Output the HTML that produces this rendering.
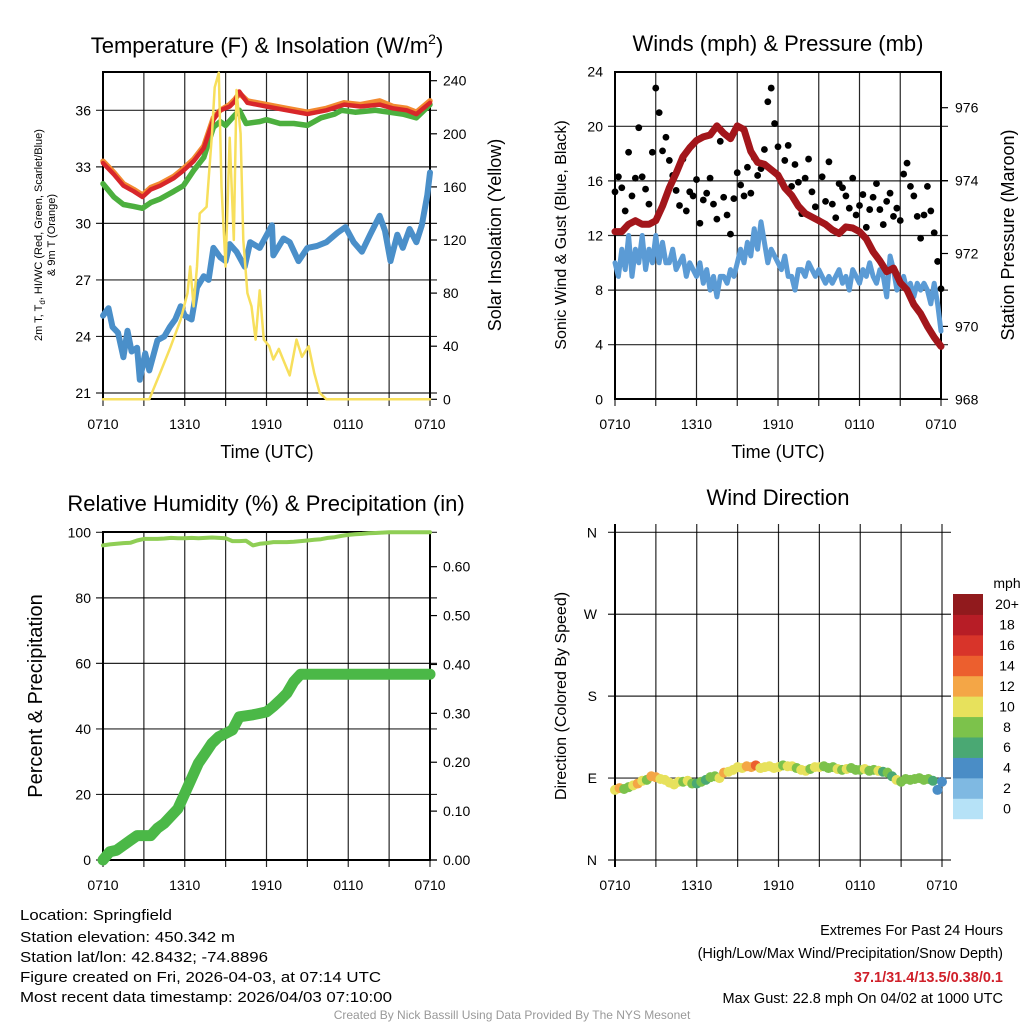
<!DOCTYPE html>
<html><head><meta charset="utf-8">
<style>
html,body{margin:0;padding:0;background:#fff;}
svg{display:block;font-family:"Liberation Sans",sans-serif;}
</style></head>
<body>
<svg id="fig" width="1024" height="1024" viewBox="0 0 1024 1024" xmlns="http://www.w3.org/2000/svg">
<g id="p1"></g>
<g id="p2"></g>
<g id="p3"></g>
<g id="p4"></g>

<text x="267" y="53" font-size="22" text-anchor="middle">Temperature (F) &amp; Insolation (W/m<tspan font-size="14" dy="-9">2</tspan><tspan dy="9">)</tspan></text>
<text x="778" y="51" font-size="22" text-anchor="middle">Winds (mph) &amp; Pressure (mb)</text>
<text x="266" y="511" font-size="22" text-anchor="middle">Relative Humidity (%) &amp; Precipitation (in)</text>
<text x="778" y="505" font-size="22" text-anchor="middle">Wind Direction</text>

<text x="267" y="458" font-size="18" text-anchor="middle">Time (UTC)</text>
<text x="778" y="458" font-size="18" text-anchor="middle">Time (UTC)</text>

<text transform="translate(42,235) rotate(-90)" font-size="11" text-anchor="middle">2m T, T<tspan font-size="8" dy="3">d</tspan><tspan dy="-3">, HI/WC (Red, Green, Scarlet/Blue)</tspan></text>
<text transform="translate(55,235) rotate(-90)" font-size="11" text-anchor="middle">&amp; 9m T (Orange)</text>
<text transform="translate(501,235) rotate(-90)" font-size="18" text-anchor="middle">Solar Insolation (Yellow)</text>
<text transform="translate(566,235) rotate(-90)" font-size="16" text-anchor="middle">Sonic Wind &amp; Gust (Blue, Black)</text>
<text transform="translate(1014,235) rotate(-90)" font-size="18" text-anchor="middle">Station Pressure (Maroon)</text>
<text transform="translate(42,696) rotate(-90)" font-size="20" text-anchor="middle">Percent &amp; Precipitation</text>
<text transform="translate(566,696) rotate(-90)" font-size="16" text-anchor="middle">Direction (Colored By Speed)</text>

<g font-size="14.5">
<text x="20" y="920" textLength="152" lengthAdjust="spacingAndGlyphs">Location: Springfield</text>
<text x="20" y="942" textLength="215" lengthAdjust="spacingAndGlyphs">Station elevation: 450.342 m</text>
<text x="20" y="962" textLength="248" lengthAdjust="spacingAndGlyphs">Station lat/lon: 42.8432; -74.8896</text>
<text x="20" y="982" textLength="361" lengthAdjust="spacingAndGlyphs">Figure created on Fri, 2026-04-03, at 07:14 UTC</text>
<text x="20" y="1002" textLength="372" lengthAdjust="spacingAndGlyphs">Most recent data timestamp: 2026/04/03 07:10:00</text>
</g>
<g font-size="14.5" text-anchor="end">
<text x="1003" y="935">Extremes For Past 24 Hours</text>
<text x="1003" y="958">(High/Low/Max Wind/Precipitation/Snow Depth)</text>
<text x="1003" y="982" fill="#d0202a" font-weight="bold">37.1/31.4/13.5/0.38/0.1</text>
<text x="1003" y="1003">Max Gust: 22.8 mph On 04/02 at 1000 UTC</text>
</g>
<text x="512" y="1019" font-size="12" fill="#999" text-anchor="middle">Created By Nick Bassill Using Data Provided By The NYS Mesonet</text>
</svg>

<script>
// ---------- data ----------
const xTickLabels = ["0710","1310","1910","0110","0710"];
const tempTicks = [21,24,27,30,33,36];
const solarTicks = [0,40,80,120,160,200,240];
const windTicks = [0,4,8,12,16,20,24];
const presTicks = [968,970,972,974,976];
const rhTicks = [0,20,40,60,80,100];
const precipTicks = [0,0.1,0.2,0.3,0.4,0.5,0.6];
const dirTicks = [0,90,180,270,360];
const dirLabels = ["N","E","S","W","N"];

const redHours = [0,0.8,1.5,2.25,2.9,3.5,4.2,5.2,5.9,6.65,7.4,8.1,8.6,9.3,9.7,10,10.6,12,13.5,15,16.4,17.7,18.9,20.3,21.3,22.3,23,24];
const tempRed = [33.2,32.6,32.0,31.7,31.4,31.8,32.0,32.4,32.8,33.3,34.0,35.5,36.0,36.2,36.5,37.0,36.4,36.2,36.0,35.8,36.0,36.3,36.2,36.3,36.1,36.0,35.8,36.4];
const tempOrange = [33.3,32.7,32.1,31.8,31.5,31.9,32.1,32.5,32.9,33.4,34.1,35.6,36.0,36.3,36.6,36.9,36.5,36.3,36.1,35.9,36.1,36.4,36.3,36.5,36.2,36.1,35.9,36.5];
const greenHours = [0,0.8,1.5,2.25,2.9,3.5,4.2,5.2,5.9,6.65,7.4,8.1,8.6,9.0,9.5,10,10.5,11.5,12,13,14,15,16,17,17.5,18.5,20,21,22,23,24];
const tempGreen = [32.1,31.4,31.0,30.9,30.8,31.1,31.3,31.7,32.0,32.8,33.5,35.1,35.4,35.2,35.6,36.0,35.3,35.4,35.5,35.3,35.3,35.2,35.6,35.8,36.0,35.9,36.0,35.9,35.8,35.6,36.3];
const dewHours = [0,0.4,0.7,1.1,1.5,1.8,2.1,2.5,2.7,3.1,3.4,4,4.5,4.9,5.3,5.7,6,6.5,6.9,7.4,7.75,8.1,8.6,9,9.3,9.8,10.4,10.8,11.5,12.4,12.5,13.25,13.7,14.35,15,15.7,16.4,17.2,17.8,18.4,19,19.6,20.3,20.7,21.1,21.6,22,22.5,23,23.4,23.8,24];
const dewBlue = [25.1,25.5,24.5,24.2,22.9,24.3,23.2,23.4,21.7,23.1,22.2,23.8,24.0,24.5,24.9,25.6,25.1,24.9,26.6,27.2,27.0,28.7,28.2,28.0,28.9,28.5,27.7,29.0,28.7,29.9,28.3,29.2,29.0,28.0,28.7,28.8,29.0,29.5,29.8,29.0,28.5,29.4,30.4,29.6,28.0,29.4,28.7,29.7,29.0,29.9,31.5,32.7];
const solarHours = [0,3.4,4.2,4.9,5.7,6.2,6.4,6.65,6.9,7.1,7.6,8.0,8.2,8.5,8.7,9.0,9.3,9.6,9.8,10.1,10.3,10.6,10.9,11.2,11.5,11.8,12.2,12.5,12.9,13.3,13.7,14.2,14.6,15.1,15.5,15.9,16.4,24];
const solarVals = [0,0,20,38,60,80,100,70,100,140,145,200,235,246,160,100,197,120,233,200,120,80,70,45,82,45,40,30,38,28,18,45,32,40,20,5,0,0];

const windBlue = [10,9,11,9.5,12,9,11,10,12,9.5,11,10,12,10,11.5,10,10,11,9.5,10,10.5,9,10,9.5,9,10,8.5,9.5,8,9,7.5,9,9,8.5,9.5,9,10,11,10,11.5,10.5,12.5,11,13,11.5,10,11,10.5,10,9.5,10.5,9,9,8,9.5,9.5,9,10,9.5,9,9.5,9,8.5,9,8.5,9,9.5,8.5,9,8,9.5,9,8.5,9.5,9,10,9,8.5,9.5,9,7.5,10.5,9.5,8,8.5,9,8,8.5,7.5,8.5,8,8.5,8,7,8.5,7,5];
const gusts = [15.2,16.3,15.5,13.8,18.1,14.9,16.2,19.9,16.3,15.4,14.3,18.1,22.8,21.0,18.2,19.2,17.5,16.4,15.3,14.2,17.6,13.8,15.2,14.9,16.1,12.9,14.6,15.1,16.2,14.3,13.2,18.9,14.8,13.5,12.1,14.7,16.6,15.7,14.9,17.0,15.1,17.7,16.4,16.9,18.3,21.8,22.8,20.2,18.5,16.0,17.5,18.6,15.6,17.2,15.9,13.6,16.2,17.6,15.2,14.1,13.1,16.3,14.5,17.4,14.3,13.3,15.8,15.5,14.9,14.0,16.2,13.5,14.2,15.0,12.6,13.9,14.8,15.8,13.9,12.8,14.5,15.1,13.4,14.0,13.1,16.5,17.3,15.6,14.9,13.4,11.8,13.5,15.6,13.8,12.2,10.1,8.1];
const pressure = [972.6,972.6,972.8,972.9,972.8,972.8,972.9,973.3,973.8,974.2,974.65,974.9,975.1,975.2,975.25,975.5,975.3,975.15,975.5,975.4,974.8,974.5,974.45,974.3,974.15,973.8,973.6,973.3,973.1,973.0,972.9,972.8,972.65,972.55,972.73,972.7,972.6,972.4,972.05,971.8,971.5,971.6,971.2,971.0,970.6,970.35,970.0,969.7,969.45];

const rh = [96,96.3,96.5,96.7,96.8,97.5,98,98,98,98.1,98.3,98.2,98.2,98.3,98.2,98.3,98.4,98.3,98.2,97.3,97.3,97.4,96,96.5,96.7,97,97,97,97.1,97.3,97.5,97.7,97.9,98.3,98.5,98.9,99.2,99.4,99.5,99.7,99.8,99.9,100,100,100,100,100,100,100];
const precip = [0,0.017,0.02,0.03,0.04,0.05,0.05,0.05,0.065,0.075,0.09,0.105,0.136,0.167,0.198,0.218,0.239,0.252,0.259,0.266,0.293,0.295,0.297,0.30,0.303,0.314,0.327,0.341,0.365,0.38,0.38,0.38,0.38,0.38,0.38,0.38,0.38,0.38,0.38,0.38,0.38,0.38,0.38,0.38,0.38,0.38,0.38,0.38,0.38];

const windDir = [77,79,78,80,82,84,87,88,92,91,89,88,85,83,86,86,87,84,84,86,88,91,92,90,96,97,99,102,101,103,102,104,101,102,103,101,102,104,103,103,101,99,98,100,102,102,103,101,102,100,99,100,101,99,99,100,98,99,98,97,96,92,88,86,89,88,89,90,88,89,87,77,86];
const windSpd = [10,13,9,8,10,12,10,9,12,12,10,10,10,11,10,9,10,8,7,8,7,8,9,10,12,11,10,11,10,13,13,15,11,10,11,10,10,9,11,10,9,10,11,9,10,10,9,8,9,10,8,10,9,8,9,10,8,8,10,7,8,7,10,9,8,9,8,9,8,8,7,5,4];
const speedBins = ["0","2","4","6","8","10","12","14","16","18","20+"];
const speedColors = ["#b6e2f7","#7fb9e2","#4a8dc6","#4aa873","#7cc24b","#e7e15c","#f4a646","#ec5f2e","#d8342a","#b71d26","#911a1d"];

// ---------- helpers ----------
const NS = "http://www.w3.org/2000/svg";
function mk(parent, tag, attrs){const e=document.createElementNS(NS,tag);for(const k in attrs)e.setAttribute(k,attrs[k]);parent.appendChild(e);return e;}
function lin(d0,d1,r0,r1){return v=>r0+(v-d0)*(r1-r0)/(d1-d0);}
function hoursOf(n){const a=[];for(let i=0;i<n;i++)a.push(i*24/(n-1));return a;}
function pathD(xs,ys){return xs.map((x,i)=>(i?"L":"M")+x.toFixed(1)+","+ys[i].toFixed(1)).join("");}

function frameAndGrid(g,L,R,T,B,ys,frame){
  const x=lin(0,24,L,R);
  for(let h=0;h<=24;h+=3){
    const gl=mk(g,"line",{x1:x(h),x2:x(h),y1:T-(frame?0:8),y2:B+7,stroke:"#000","stroke-width":1.2,"stroke-opacity":0.85});
    
    
  }
  ys.forEach(y=>{
    const gl=mk(g,"line",{x1:L-7,x2:R+(frame?7:9),y1:y,y2:y,stroke:"#000","stroke-width":1.2,"stroke-opacity":0.85});
    
    
  });
  xTickLabels.forEach((t,i)=>{
    const tx=mk(g,"text",{x:x(i*6),y:B+30,"font-size":14,"text-anchor":"middle"});
    tx.textContent=t;
    
    
  });
  if(frame){
    const fr=mk(g,"rect",{x:L,y:T,width:R-L,height:B-T,fill:"none",stroke:"#000","stroke-width":2});
    
    
  } else {
    mk(g,"line",{x1:L,x2:L,y1:T-8,y2:B+7,stroke:"#000","stroke-width":2});
  }
  return x;
}
function yLabels(g,vals,sc,xpos,anchor,fmt){
  vals.forEach(v=>{
    const t=mk(g,"text",{x:xpos,y:sc(v)+5,"font-size":14,"text-anchor":anchor});
    t.textContent=fmt?fmt(v):v;
    
    
  });
}
function rightTicks(g,vals,sc,R){
  vals.forEach(v=>{mk(g,"line",{x1:R,x2:R+7,y1:sc(v),y2:sc(v),stroke:"#000","stroke-width":1.2});});
}
function line(g,xs,ys,color,w,name){
  const p=mk(g,"path",{d:pathD(xs,ys),fill:"none",stroke:color,"stroke-width":w,"stroke-linejoin":"round","stroke-linecap":"round"});
  
  
  return p;
}

// ---------- panel 1 ----------
(function(){
  const g=document.getElementById("p1");
  const L=103,R=430,T=72,B=399;
  const yT=lin(21,36,393,110.3), yS=lin(0,240,399.3,80.7);
  const x=frameAndGrid(g,L,R,T,B,tempTicks.map(yT),true);
  yLabels(g,tempTicks,yT,L-12,"end");
  rightTicks(g,solarTicks,yS,R);
  yLabels(g,solarTicks,yS,R+13,"start");
  line(g,dewHours.map(x),dewBlue.map(yT),"#4a8fc9",6,"dewpoint-line");
  line(g,greenHours.map(x),tempGreen.map(yT),"#4caf3e",5.5,"heat-index-line");
  line(g,redHours.map(x),tempOrange.map(yT),"#f28a30",5.5,"temp-9m-line");
  line(g,redHours.map(x),tempRed.map(yT),"#d8262a",4.5,"temp-2m-line");
  line(g,solarHours.map(x),solarVals.map(yS),"#f7df5c",2.5,"solar-line");
})();

// ---------- panel 2 ----------
(function(){
  const g=document.getElementById("p2");
  const L=615,R=941,T=72,B=399;
  const yW=lin(0,24,399.3,71.7), yP=lin(968,976,399.3,107.7);
  const x=frameAndGrid(g,L,R,T,B,windTicks.slice(1,6).map(yW),true);
  yLabels(g,windTicks,yW,L-12,"end");
  rightTicks(g,presTicks,yP,R);
  yLabels(g,presTicks,yP,R+14,"start");
  line(g,hoursOf(windBlue.length).map(x),windBlue.map(yW),"#5b9bd5",5,"sonic-wind-line");
  const gh=hoursOf(gusts.length);
  gusts.forEach((v,i)=>{
    const c=mk(g,"circle",{cx:x(gh[i]),cy:yW(v),r:3.4,fill:"#000"});
    
    
  });
  line(g,hoursOf(pressure.length).map(x),pressure.map(yP),"#a3161b",7,"pressure-line");
})();

// ---------- panel 3 ----------
(function(){
  const g=document.getElementById("p3");
  const L=103,R=430,T=532,B=860;
  const yR=lin(0,100,860,532.3), yPr=lin(0,0.6,860,566.7);
  const x=frameAndGrid(g,L,R,T,B,rhTicks.map(yR),true);
  yLabels(g,rhTicks,yR,L-12,"end");
  rightTicks(g,precipTicks,yPr,R);
  yLabels(g,precipTicks,yPr,R+13,"start",v=>v.toFixed(2));
  const hs=hoursOf(49);
  line(g,hs.map(x),rh.map(yR),"#8fce55",4,"humidity-line");
  line(g,hs.map(x),precip.map(yPr),"#4bb847",11,"precipitation-line");
})();

// ---------- panel 4 ----------
(function(){
  const g=document.getElementById("p4");
  const L=615,R=942,T=532,B=860;
  const yD=lin(0,360,860,532.3);
  const x=frameAndGrid(g,L,R,T,B,dirTicks.map(yD),false);
  dirTicks.forEach((d,i)=>{
    const t=mk(g,"text",{x:L-18,y:yD(d)+5,"font-size":14,"text-anchor":"end"});
    t.textContent=dirLabels[i];
    
    
  });
  const hs=hoursOf(windDir.length);
  windDir.forEach((d,i)=>{
    const b=Math.min(10,Math.floor(windSpd[i]/2));
    const c=mk(g,"circle",{cx:x(hs[i]),cy:yD(d),r:5,fill:speedColors[b]});
    
    
  });
  const cbT=594,cbB=818.7,cbL=953,cbW=30,n=speedBins.length,bh=(cbB-cbT)/n;
  const ut=mk(g,"text",{x:1007,y:588,"font-size":14,"text-anchor":"middle"});
  ut.textContent="mph";
  
  
  speedBins.forEach((lab,i)=>{
    const yy=cbB-(i+1)*bh;
    const r=mk(g,"rect",{x:cbL,y:yy,width:cbW,height:bh+0.5,fill:speedColors[i]});
    
    
    const t=mk(g,"text",{x:1007,y:yy+bh/2+5,"font-size":14,"text-anchor":"middle"});
    t.textContent=lab;
    
    
  });
})();
</script>
</body></html>
